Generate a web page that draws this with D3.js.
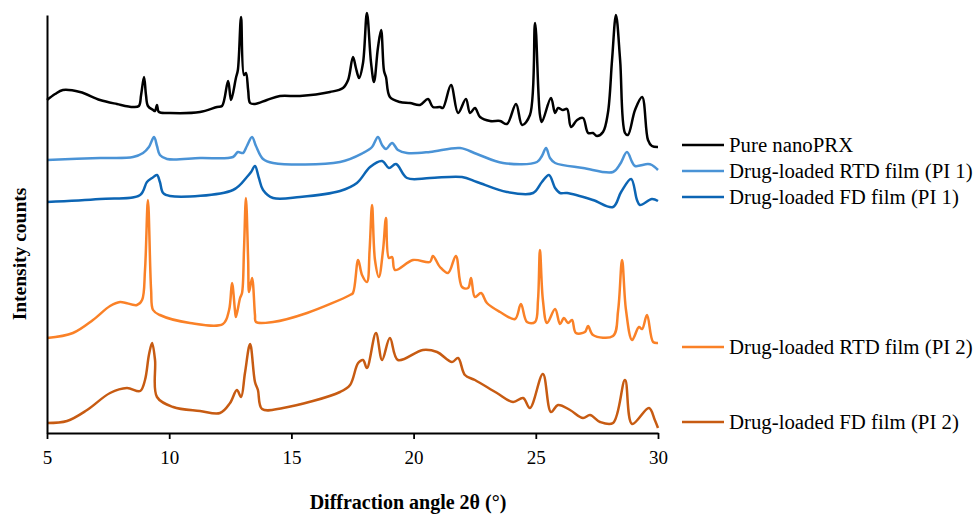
<!DOCTYPE html>
<html>
<head>
<meta charset="utf-8">
<script src="https://cdn.jsdelivr.net/npm/d3@7"></script>
<style>
  html, body { margin: 0; padding: 0; background: #fff; }
  svg { display: block; }
  text { font-family: "Liberation Serif", "Times New Roman", serif; fill: #000; }
</style>
</head>
<body>
<svg id="chart" width="976" height="518"></svg>
<script>
// ---- Data (angle 2θ in degrees, intensity in arbitrary stacked counts) ----
const xTicks = [5, 10, 15, 20, 25, 30];
const seriesNames = [
  "Pure nanoPRX",
  "Drug-loaded RTD film (PI 1)",
  "Drug-loaded FD film (PI 1)",
  "Drug-loaded RTD film (PI 2)",
  "Drug-loaded FD film (PI 2)"
];
const seriesColors = ["#000000", "#4a93d6", "#0c65b4", "#fa8127", "#c75b12"];

const pureNanoPRX = [
  [5.00,333],[5.33,339],[5.65,343],[6.35,341],[7.17,333],[7.86,329],[8.52,326],[8.76,327],
  [8.85,338],[8.97,356],[9.05,338],[9.13,327],[9.34,323],[9.42,322],[9.50,328],[9.58,321],
  [10.03,320],[11.26,321],[11.96,326],[12.16,327],[12.41,352],[12.53,333],[12.73,355],[12.81,363],
  [12.94,416],[13.06,358],[13.14,360],[13.23,343],[13.31,330],[13.51,329],[14.00,333],[14.53,337],
  [15.35,337],[16.58,341],[17.11,345],[17.32,353],[17.52,376],[17.64,365],[17.77,355],[17.93,370],
  [18.09,420],[18.26,370],[18.38,351],[18.54,385],[18.67,403],[18.79,362],[18.87,356],[19.03,336],
  [19.44,331],[19.85,330],[20.26,328],[20.59,334],[20.79,326],[21.08,326],[21.20,325],[21.53,348],
  [21.82,320],[22.14,334],[22.31,320],[22.51,325],[22.72,316],[23.13,312],[23.54,312],[23.82,309],
  [24.19,329],[24.44,308],[24.76,318],[24.97,410],[25.17,318],[25.25,311],[25.62,335],[25.79,320],
  [25.91,325],[26.11,323],[26.28,324],[26.44,306],[26.69,313],[26.93,315],[27.14,300],[27.34,300],
  [27.50,297],[27.75,301],[27.95,320],[28.12,373],[28.28,418],[28.45,373],[28.65,300],[28.77,298],
  [29.06,323],[29.35,336],[29.59,293],[29.75,287],[30.00,286]
];
const rtdPI1 = [
  [5.00,273],[7.17,275],[8.52,276],[8.93,280],[9.17,286],[9.38,296],[9.50,287],[9.62,278],
  [9.91,274],[11.26,275],[12.61,276],[12.81,281],[13.02,280],[13.18,287],[13.39,296],[13.55,287],
  [13.84,274],[14.25,270],[16.99,271],[17.93,280],[18.30,286],[18.54,296],[18.71,288],[18.87,284],
  [19.12,290],[19.36,283],[19.73,280],[20.67,281],[21.90,285],[22.59,279],[23.66,270],[25.05,271],
  [25.25,277],[25.42,285],[25.58,275],[25.79,270],[26.93,265],[28.16,261],[28.45,269],[28.73,281],
  [28.94,271],[29.06,267],[29.59,269],[29.75,268],[30.00,263]
];
const fdPI1 = [
  [5.00,231],[7.17,234],[8.81,238],[9.09,251],[9.30,255],[9.50,258],[9.62,251],[9.75,240],
  [10.03,237],[12.61,243],[13.18,256],[13.35,261],[13.51,267],[13.67,255],[13.84,243],[14.25,235],
  [15.35,236],[16.99,242],[17.68,250],[18.22,266],[18.71,272],[18.99,265],[19.28,269],[19.73,255],
  [20.67,255],[21.98,256],[22.59,251],[23.82,241],[24.89,240],[25.25,251],[25.54,258],[25.79,245],
  [25.99,240],[26.28,240],[27.34,233],[28.16,226],[28.49,241],[28.90,254],[29.14,233],[29.26,228],
  [29.75,234],[30.00,232]
];
const rtdPI2 = [
  [5.00,95],[6.06,100],[6.88,113],[7.58,127],[7.99,131],[8.68,128],[8.89,133],[9.01,163],
  [9.13,233],[9.26,143],[9.34,123],[9.62,118],[10.85,110],[12.20,109],[12.45,123],[12.57,150],
  [12.69,123],[12.73,116],[12.90,135],[12.98,140],[13.06,183],[13.14,235],[13.23,173],[13.27,141],
  [13.39,155],[13.51,118],[13.55,111],[14.25,111],[15.64,120],[17.40,138],[17.52,140],[17.73,173],
  [17.89,158],[18.09,151],[18.20,183],[18.30,228],[18.42,173],[18.58,156],[18.75,183],[18.87,215],
  [18.99,175],[19.12,176],[19.24,163],[19.98,173],[20.67,171],[20.79,177],[21.08,166],[21.41,160],
  [21.73,177],[21.98,146],[22.23,145],[22.35,155],[22.51,136],[22.76,140],[23.00,130],[23.54,121],
  [24.15,114],[24.39,129],[24.64,111],[24.97,111],[25.09,133],[25.17,183],[25.29,133],[25.46,110],
  [25.79,124],[25.99,109],[26.15,115],[26.32,110],[26.48,113],[26.64,100],[27.01,101],[27.14,107],
  [27.34,98],[28.16,97],[28.37,123],[28.53,173],[28.69,123],[28.94,93],[29.22,106],[29.35,104],
  [29.55,118],[29.80,91],[30.00,90]
];
const fdPI2 = [
  [5.00,10],[5.82,12],[6.64,23],[7.58,40],[8.27,45],[8.81,42],[9.01,53],[9.17,78],
  [9.30,90],[9.42,73],[9.50,36],[10.16,26],[11.26,22],[12.08,20],[12.49,30],[12.77,43],
  [12.94,36],[13.10,60],[13.31,89],[13.51,51],[13.63,43],[13.80,24],[14.66,25],[16.99,41],
  [17.40,48],[17.73,70],[17.93,73],[18.09,65],[18.46,100],[18.71,73],[19.03,95],[19.36,73],
  [20.38,83],[20.96,81],[21.57,71],[21.82,75],[22.10,58],[22.51,53],[23.41,40],[24.07,31],
  [24.48,35],[24.76,25],[25.29,59],[25.62,21],[25.91,28],[26.40,23],[26.93,15],[27.22,18],
  [27.63,11],[28.16,10],[28.65,53],[28.94,9],[29.63,25],[29.87,13],[30.00,5]
];
// vertical positions (intensity units) of legend entries
const legendLevels = [288, 262, 236, 86, 11];

// ---- Drawing ----
const svg = d3.select("#chart");
const x = d3.scaleLinear().domain([5, 30]).range([47, 658]);
const y = d3.scaleLinear().domain([0, 418]).range([433, 15]);

const allSeries = [pureNanoPRX, rtdPI1, fdPI1, rtdPI2, fdPI2];

const line = d3.line()
  .x(d => x(d[0]))
  .y(d => y(d[1]))
  .curve(d3.curveCatmullRom.alpha(0.5));

svg.append("g").selectAll("path")
  .data(allSeries)
  .join("path")
  .attr("d", d => line(d))
  .attr("fill", "none")
  .attr("stroke", (d, i) => seriesColors[i])
  .attr("stroke-width", 2.5)
  .attr("stroke-linejoin", "round");

// x axis
const xAxis = svg.append("g")
  .attr("transform", `translate(0,${y(0)})`)
  .call(d3.axisBottom(x).tickValues(xTicks).tickSize(6).tickSizeOuter(0).tickPadding(12));
xAxis.select(".domain").attr("stroke", "#000").attr("stroke-width", 2);
xAxis.selectAll(".tick line").attr("stroke", "#000").attr("stroke-width", 1.8);
xAxis.selectAll(".tick text")
  .attr("font-family", "Liberation Serif, serif")
  .attr("font-size", 19)
  .attr("fill", "#000");

// y axis (no ticks)
const yAxis = svg.append("g")
  .attr("transform", `translate(${x(5)},0)`)
  .call(d3.axisLeft(y).tickValues([]).tickSizeOuter(0));
yAxis.select(".domain").attr("stroke", "#000").attr("stroke-width", 2);

// axis titles
svg.append("text")
  .attr("x", 408).attr("y", 509)
  .attr("text-anchor", "middle")
  .attr("font-size", 20)
  .attr("font-weight", "bold")
  .text("Diffraction angle 2θ (°)");

svg.append("text")
  .attr("transform", "translate(26,254) rotate(-90)")
  .attr("text-anchor", "middle")
  .attr("font-size", 19.5)
  .attr("font-weight", "bold")
  .text("Intensity counts");

// legend
const leg = svg.append("g").selectAll("g")
  .data(seriesNames)
  .join("g")
  .attr("transform", (d, i) => `translate(0,${y(legendLevels[i])})`);
leg.append("line")
  .attr("x1", 682).attr("x2", 724)
  .attr("stroke", (d, i) => seriesColors[i])
  .attr("stroke-width", 2.4);
leg.append("text")
  .attr("x", 729).attr("y", 6.5)
  .attr("font-size", 20.8)
  .text(d => d);
</script>
</body>
</html>
